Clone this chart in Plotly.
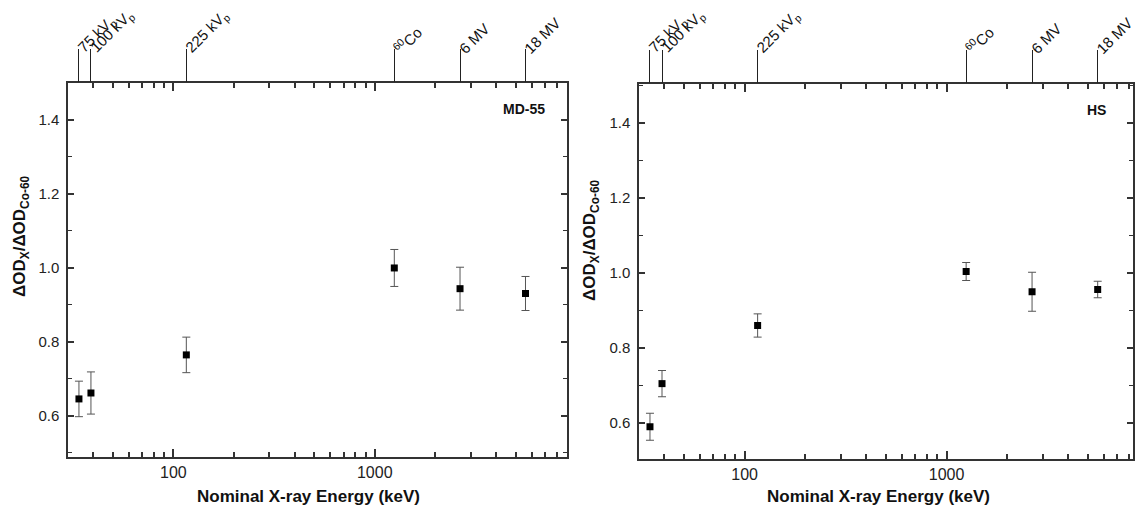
import math
import plotly.graph_objects as go

energy = [34, 39, 116, 1250, 2650, 5600]
md55 = [0.646, 0.662, 0.765, 1.000, 0.944, 0.931]
md55_err = [0.048, 0.057, 0.048, 0.050, 0.058, 0.046]
hs = [0.589, 0.704, 0.859, 1.003, 0.949, 0.955]
hs_err = [0.036, 0.035, 0.031, 0.024, 0.052, 0.022]
beam_labels = ["75 kV<sub>p</sub>", "100 kV<sub>p</sub>", "225 kV<sub>p</sub>",
               "<sup>60</sup>Co", "6 MV", "18 MV"]
major_ticks = [100, 1000]
minor_ticks = [40, 50, 60, 70, 80, 90, 200, 300, 400, 500, 600, 700, 800, 900,
               2000, 3000, 4000, 5000, 6000, 7000, 8000, 9000]
panel_names = ["MD-55", "HS"]
x_title = "<b>Nominal X-ray Energy (keV)</b>"
y_title = "<b>ΔOD<sub>X</sub>/ΔOD<sub>Co-60</sub></b>"

FONT = "Liberation Sans, Arial, sans-serif"
AX = "#333"
W, H = 1135, 510

fig = go.Figure()

def add_panel(i, y, err, xdom, ydom, xrng, yrng, name, nx, ytitle_x, ytitle_y, xtitle_x):
    n = 3 * (i - 1)
    xa = "x" if i == 1 else f"x{n+1}"
    xtop = f"x{n+2}"
    xmin = f"x{n+3}"
    ya = "y" if i == 1 else f"y{i}"
    fig.add_trace(go.Scatter(
        x=energy, y=y, mode="markers", xaxis=xa, yaxis=ya,
        marker=dict(symbol="square", size=7, color="black"),
        error_y=dict(type="data", array=err, visible=True, color="#555",
                     thickness=1, width=4),
        showlegend=False))
    for ax in (xtop, xmin):
        fig.add_trace(go.Scatter(x=[energy[0]], y=[y[0]], mode="markers",
                                 marker=dict(opacity=0), xaxis=ax, yaxis=ya,
                                 showlegend=False, hoverinfo="skip"))
    xk = "xaxis" if i == 1 else f"xaxis{n+1}"
    yk = "yaxis" if i == 1 else f"yaxis{i}"
    fig.layout[xk] = dict(
        type="log", range=xrng, domain=xdom, anchor=ya,
        showline=True, linecolor=AX, linewidth=1.5, mirror="ticks",
        ticks="inside", ticklen=8, tickcolor=AX, tickwidth=1.5,
        tickvals=major_ticks, ticktext=[str(v) for v in major_ticks],
        showgrid=False, zeroline=False,
        tickfont=dict(family=FONT, size=16, color="#222"))
    # minor ticks axis
    fig.layout[f"xaxis{n+3}"] = dict(
        type="log", range=xrng, domain=xdom, anchor=ya, overlaying=xa, side="bottom",
        showline=True, linecolor=AX, linewidth=1.5, mirror="ticks",
        ticks="inside", ticklen=5, tickcolor=AX, tickwidth=1.5,
        tickvals=minor_ticks, showticklabels=False,
        showgrid=False, zeroline=False)
    # top axis carrying beam markers
    fig.layout[f"xaxis{n+2}"] = dict(
        type="log", range=xrng, domain=xdom, anchor=ya, overlaying=xa,
        side="top", showline=False, showgrid=False, zeroline=False,
        tickvals=energy, showticklabels=False,
        ticks="outside", ticklen=33, tickcolor="#222", tickwidth=1.3)
    fig.layout[yk] = dict(
        range=yrng, domain=ydom, anchor=xa,
        showline=True, linecolor=AX, linewidth=1.5, mirror="ticks",
        ticks="inside", ticklen=6, tickcolor=AX, tickwidth=1.5,
        dtick=0.2, tick0=0.6, tickformat=".1f", ticklabelstandoff=4,
        minor=dict(ticks="inside", ticklen=4, tickcolor=AX, tickwidth=1.2,
                   dtick=0.1, tick0=0.5),
        showgrid=False, zeroline=False,
        tickfont=dict(family=FONT, size=15, color="#222"))
    top_y = 1 - 60 / H
    for e, lab in zip(energy, beam_labels):
        fig.add_annotation(xref=xa, yref="paper", x=math.log10(e), y=top_y,
                           xanchor="left", yanchor="bottom", showarrow=False,
                           textangle=-45, text=lab, xshift=-7,
                           font=dict(family=FONT, size=15, color="#111"))
    fig.add_annotation(xref=f"{xa} domain", yref=f"{ya} domain", x=nx, y=0.93,
                       xanchor="right", yanchor="middle", showarrow=False,
                       text=f"<b>{name}</b>", font=dict(family=FONT, size=14, color="#111"))
    fig.add_annotation(xref="paper", yref="paper", x=ytitle_x / W, y=1 - ytitle_y / H,
                       xanchor="center", yanchor="middle", showarrow=False,
                       textangle=-90, text=y_title,
                       font=dict(family=FONT, size=17, color="#111"))
    fig.add_annotation(xref="paper", yref="paper", x=xtitle_x / W, y=1 - 496 / H,
                       xanchor="center", yanchor="middle", showarrow=False,
                       text=x_title, font=dict(family=FONT, size=17, color="#111"))

add_panel(1, md55, md55_err, [68/W, 567/W], [1-457/H, 1-83/H],
          [math.log10(30), math.log10(9000)], [0.489, 1.5], panel_names[0], 0.96,
          21, 236, 308)
add_panel(2, hs, hs_err, [639/W, 1133/W], [1-459/H, 1-84/H],
          [math.log10(30), 3.923], [0.503, 1.503], panel_names[1], 0.95,
          591, 240, 878)

fig.update_layout(width=W, height=H, margin=dict(l=0, r=0, t=0, b=0),
                  plot_bgcolor="white", paper_bgcolor="white", showlegend=False)
fig.write_html("out.html")
